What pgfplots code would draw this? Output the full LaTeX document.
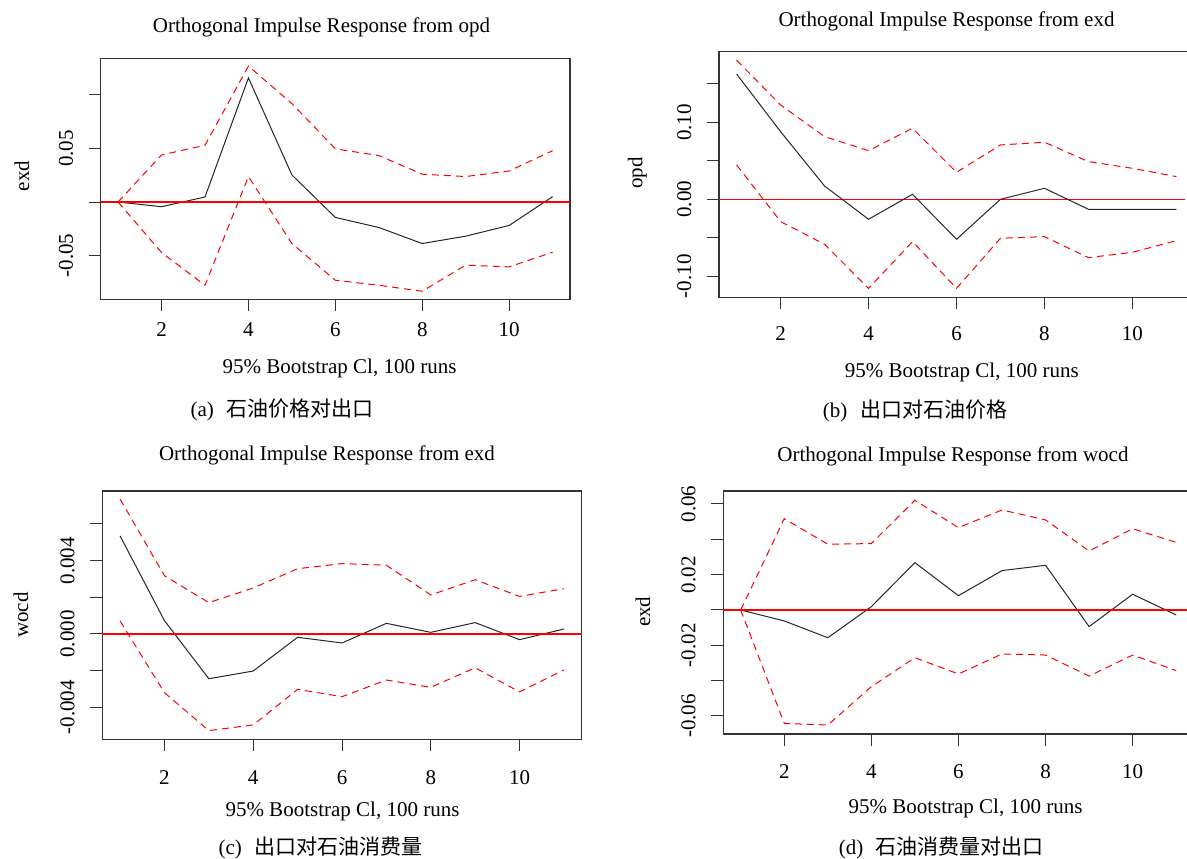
\documentclass[border=0pt]{standalone}
\usepackage{pgfplots}
\pgfplotsset{compat=1.18}
\usepackage{pgfplotstable}
\usepackage{fontspec}
\setmainfont{Liberation Serif}
\newfontfamily\cjk{Noto Sans CJK SC}

\pgfplotstableread{
x b u l
1 0 0 0
2 -0.0044 0.044 -0.0472
3 0.0047 0.053 -0.0778
4 0.116 0.127 0.0238
5 0.0253 0.092 -0.0388
6 -0.0144 0.0497 -0.0731
7 -0.0238 0.0434 -0.0778
8 -0.0388 0.026 -0.0834
9 -0.0319 0.0238 -0.059
10 -0.0219 0.029 -0.0606
11 0.005 0.048 -0.0469
}\dataA
\pgfplotstableread{
x b u l
1 0.163 0.181 0.0447
2 0.088 0.1227 -0.029
3 0.0173 0.0815 -0.0585
4 -0.026 0.0633 -0.116
5 0.0065 0.0924 -0.055
6 -0.052 0.0351 -0.1158
7 0 0.0707 -0.0507
8 0.0143 0.0742 -0.0486
9 -0.013 0.049 -0.0759
10 -0.013 0.0403 -0.069
11 -0.013 0.0295 -0.0538
}\dataB
\pgfplotstableread{
x b u l
1 0.00535 0.00736 0.00071
2 0.00073 0.00318 -0.0032
3 -0.00244 0.00171 -0.00527
4 -0.00202 0.00251 -0.00496
5 -0.00018 0.00356 -0.00302
6 -0.00049 0.00384 -0.00342
7 0.00058 0.00375 -0.00251
8 0.00009 0.00213 -0.00291
9 0.00062 0.00296 -0.00184
10 -0.00031 0.00205 -0.00316
11 0.00027 0.00247 -0.00196
}\dataC
\pgfplotstableread{
x b u l
1 0 0 0
2 -0.0062 0.0517 -0.0642
3 -0.0157 0.0372 -0.0651
4 0.0019 0.0376 -0.0434
5 0.0268 0.0621 -0.027
6 0.0081 0.0466 -0.0362
7 0.0223 0.0566 -0.0249
8 0.0253 0.051 -0.0255
9 -0.0094 0.0334 -0.0374
10 0.0089 0.046 -0.0255
11 -0.0028 0.0383 -0.0343
}\dataD

\newcommand{\fs}{\fontsize{21}{25}\selectfont}

\pgfplotsset{
  irf/.style={
    scale only axis, clip=false,
    xmin=0.6, xmax=11.4,
    xtick={2,4,6,8,10},
    xticklabels={2,4,6,8,10},
    tick align=outside,
    major tick length=12pt,
    xtick pos=left, ytick pos=left,
    tick style={line width=1pt, color=black!80},
    axis line style={line width=1.2pt, color=black!80},
    tick label style={font=\fs},
    label style={font=\fs},
    every axis title shift=0pt,
    title style={font=\fs, anchor=center},
    xlabel style={anchor=center},
    ylabel style={anchor=center},
    yticklabel style={rotate=90, anchor=south},
    yticklabel shift=12pt,
    scaled ticks=false,
    xlabel={95\% Bootstrap Cl, 100 runs},
  },
  irfb/.style={black!85, line width=1pt},
  irfr/.style={red, line width=1pt, dash pattern=on 7pt off 5pt},
  irfz/.style={red, line width=1.3pt},
}

\begin{document}
\begin{tikzpicture}[x=1pt,y=1pt]
\useasboundingbox (0,0) rectangle (1187,859);

% (a)
\begin{axis}[irf, at={(100.7pt,559.7pt)}, anchor=south west,
  width=469.3pt, height=241pt,
  ymin=-0.0909, ymax=0.1343,
  xticklabel shift=8pt,
  ytick={-0.05,0,0.05,0.10}, yticklabels={-0.05,,0.05,},
  title={Orthogonal Impulse Response from opd},
  title style={at={(axis description cs:0.4705,1.128)}},
  xlabel style={at={(axis description cs:0.5089,-0.287)}},
  ylabel={exd},
  ylabel style={at={(axis description cs:-0.1677,0.5116)}}]
\addplot[irfb] table[x=x,y=b]{\dataA};
\addplot[irfr] table[x=x,y=u]{\dataA};
\addplot[irfr] table[x=x,y=l]{\dataA};
\addplot[irfz] coordinates {(0.6,0) (11.4,0)};
\end{axis}

% (b)
\begin{axis}[irf, at={(719pt,561.7pt)}, anchor=south west,
  width=475pt, height=245.6pt,
  ymin=-0.1275, ymax=0.1920,
  xticklabel shift=14pt,
  ytick={-0.10,-0.05,0,0.05,0.10,0.15}, yticklabels={-0.10,,0.00,,0.10,},
  title={Orthogonal Impulse Response from exd},
  title style={at={(axis description cs:0.479,1.124)}},
  xlabel style={at={(axis description cs:0.511,-0.305)}},
  ylabel={opd},
  ylabel style={at={(axis description cs:-0.1718,0.506)}}]
\addplot[irfz] coordinates {(0.6,0) (11.2,0)};
\addplot[irfb] table[x=x,y=b]{\dataB};
\addplot[irfr] table[x=x,y=u]{\dataB};
\addplot[irfr] table[x=x,y=l]{\dataB};
\end{axis}

% (c)
\begin{axis}[irf, at={(102.3pt,119.7pt)}, anchor=south west,
  width=479.4pt, height=248.3pt,
  ymin=-0.005744, ymax=0.0078,
  xticklabel shift=16pt,
  ytick={-0.004,-0.002,0,0.002,0.004,0.006}, yticklabels={-0.004,,0.000,,0.004,},
  title={Orthogonal Impulse Response from exd},
  title style={at={(axis description cs:0.4687,1.143)}},
  xlabel style={at={(axis description cs:0.501,-0.2916)}},
  ylabel={wocd},
  ylabel style={at={(axis description cs:-0.1696,0.5006)}}]
\addplot[irfb] table[x=x,y=b]{\dataC};
\addplot[irfr] table[x=x,y=u]{\dataC};
\addplot[irfr] table[x=x,y=l]{\dataC};
\addplot[irfz] coordinates {(0.6,0) (11.4,0)};
\end{axis}

% (d)
\begin{axis}[irf, at={(723.3pt,125pt)}, anchor=south west,
  width=470.3pt, height=243pt,
  ymin=-0.07019, ymax=0.06736,
  xticklabel shift=15pt,
  ytick={-0.06,-0.04,-0.02,0,0.02,0.04,0.06}, yticklabels={-0.06,,-0.02,,0.02,,0.06},
  title={Orthogonal Impulse Response from wocd},
  title style={at={(axis description cs:0.4884,1.142)}},
  xlabel style={at={(axis description cs:0.515,-0.3045)}},
  ylabel={exd},
  ylabel style={at={(axis description cs:-0.1707,0.5033)}}]
\addplot[irfb] table[x=x,y=b]{\dataD};
\addplot[irfr] table[x=x,y=u]{\dataD};
\addplot[irfr] table[x=x,y=l]{\dataD};
\addplot[irfz] coordinates {(0.6,0) (11.4,0)};
\end{axis}

% captions
\node[font=\fs, anchor=center] at (282,449) {(a)\hspace{0.6em}{\cjk 石油价格对出口}};
\node[font=\fs, anchor=center] at (915,448.3) {(b)\hspace{0.6em}{\cjk 出口对石油价格}};
\node[font=\fs, anchor=center] at (320.5,11) {(c)\hspace{0.6em}{\cjk 出口对石油消费量}};
\node[font=\fs, anchor=center] at (941.4,11) {(d)\hspace{0.6em}{\cjk 石油消费量对出口}};
\end{tikzpicture}
\end{document}
